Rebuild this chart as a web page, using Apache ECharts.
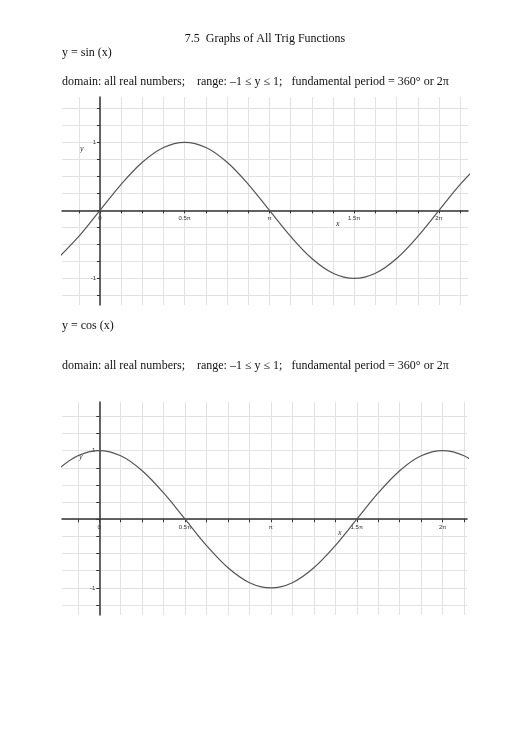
<!DOCTYPE html>
<html><head><meta charset="utf-8">
<script src="https://cdn.jsdelivr.net/npm/echarts@6/dist/echarts.min.js"></script>
<style>html,body{margin:0;padding:0;background:#fff}#c{width:530px;height:749px}</style>
</head><body><div id="c"></div>
<script>
// x values in units of π
const sampleX = [-0.25,-0.125,0,0.125,0.25,0.375,0.5,0.625,0.75,0.875,1,1.125,1.25,1.375,1.5,1.625,1.75,1.875,2,2.125,2.25];
const sinY = [-0.707,-0.383,0,0.383,0.707,0.924,1,0.924,0.707,0.383,0,-0.383,-0.707,-0.924,-1,-0.924,-0.707,-0.383,0,0.383,0.707];
const cosY = [0.707,0.924,1,0.924,0.707,0.383,0,-0.383,-0.707,-0.924,-1,-0.924,-0.707,-0.383,0,0.383,0.707,0.924,1,0.924,0.707];
const xGridValues = [-0.125,0,0.125,0.25,0.375,0.5,0.625,0.75,0.875,1,1.125,1.25,1.375,1.5,1.625,1.75,1.875,2,2.125];
const xLabelValues = [0,0.5,1,1.5,2];
const xLabelText = {0:'0',0.5:'0.5π',1:'π',1.5:'1.5π',2:'2π'};
const yGridValues = [-1.25,-1,-0.75,-0.5,-0.25,0,0.25,0.5,0.75,1,1.25,1.5];
const yLabelValues = [1,-1];

const serif = '"Liberation Serif","DejaVu Serif",serif';
const lblStyle = {fontSize:6,color:'#333',fontFamily:'Arial'};
function xAxis(gi,min,max){return {type:'value',gridIndex:gi,min:min,max:max,
  axisLine:{onZero:true,lineStyle:{color:'#333',width:1.5}},
  axisTick:{show:true,customValues:xGridValues,length:3,lineStyle:{color:'#333'}},
  axisLabel:{show:false},
  splitLine:{show:true,lineStyle:{color:'#e2e2e2',width:1}}};}
function yAxis(gi,min,max){return {type:'value',gridIndex:gi,min:min,max:max,
  axisLine:{onZero:true,lineStyle:{color:'#333',width:1.5}},
  axisTick:{show:true,customValues:yGridValues,length:3,lineStyle:{color:'#333'}},
  axisLabel:{show:false},
  splitLine:{show:true,lineStyle:{color:'#e2e2e2',width:1}}};}
function xLab(gi,min,max,off){return {type:'value',gridIndex:gi,min:min,max:max,position:'bottom',offset:off,
  axisLine:{show:false,onZero:false},axisTick:{show:false},splitLine:{show:false},
  axisLabel:Object.assign({customValues:xLabelValues,formatter:v=>xLabelText[v]||'',margin:5},lblStyle)};}
function yLab(gi,min,max,off){return {type:'value',gridIndex:gi,min:min,max:max,position:'left',offset:off,
  axisLine:{show:false,onZero:false},axisTick:{show:false},splitLine:{show:false},
  axisLabel:Object.assign({customValues:yLabelValues,margin:4},lblStyle)};}
function pts(ys){return sampleX.map((x,i)=>[x,ys[i]]);}
function txt(x,y,t,o){return Object.assign({type:'text',left:x,top:y,style:{text:t,font:'12px '+serif,fill:'#111'}},o||{});}
const chart = echarts.init(document.getElementById('c'));
chart.setOption({
  animation:false,
  grid:[{left:62,width:406,top:97,height:208},{left:62,width:405,top:402,height:213}],
  xAxis:[xAxis(0,-0.224,2.171),xAxis(1,-0.217,2.142),xLab(0,-0.224,2.171,-94.3),xLab(1,-0.217,2.142,-96)],
  yAxis:[yAxis(0,-1.39,1.666),yAxis(1,-1.395,1.708),yLab(0,-1.39,1.666,-38),yLab(1,-1.395,1.708,-37.3)],
  series:[
    {type:'line',xAxisIndex:0,yAxisIndex:0,data:pts(sinY),smooth:0.35,showSymbol:false,lineStyle:{color:'#555',width:1.2}},
    {type:'line',xAxisIndex:1,yAxisIndex:1,data:pts(cosY),smooth:0.35,showSymbol:false,lineStyle:{color:'#555',width:1.2}}
  ],
  graphic:[
    {type:'text',left:'center',top:33,style:{text:'7.5  Graphs of All Trig Functions',font:'12px '+serif,fill:'#111'}},
    txt(62,47,'y = sin (x)'),
    txt(62,76,'domain: all real numbers;    range: \u20131 \u2264 y \u2264 1;   fundamental period = 360\u00b0 or 2\u03c0'),
    txt(80,145,'y',{style:{text:'y',font:'italic 8px '+serif,fill:'#333'}}),
    txt(336,220,'x',{style:{text:'x',font:'italic 8px '+serif,fill:'#333'}}),
    txt(62,320,'y = cos (x)'),
    txt(62,360,'domain: all real numbers;    range: \u20131 \u2264 y \u2264 1;   fundamental period = 360\u00b0 or 2\u03c0'),
    txt(79,453,'y',{style:{text:'y',font:'italic 8px '+serif,fill:'#333'}}),
    txt(338,529,'x',{style:{text:'x',font:'italic 8px '+serif,fill:'#333'}})
  ]
});
</script></body></html>
